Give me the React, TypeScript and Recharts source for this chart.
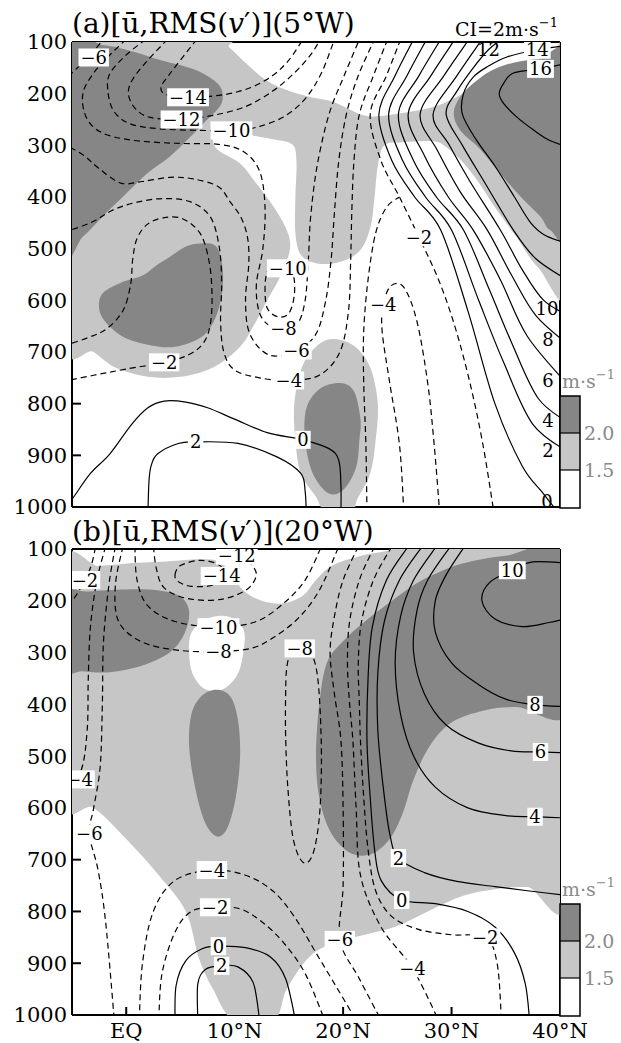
import React from 'react';
import { ScatterChart, Scatter, XAxis, YAxis } from 'recharts';

type Pt = [number, number];
type Lb = [number, number, number];

const LAT_TICKS = [0, 10, 20, 30, 40];
const P_TICKS = [100, 200, 300, 400, 500, 600, 700, 800, 900, 1000];
const LEGEND_LEVELS = ['2.0', '1.5'];

// ---------------- Panel (a) 5°W ----------------
const A_LIGHT_1: Pt[] = [[-6,95],[8.5,95],[9.5,110],[11.1,142],[12.9,174],[14.8,193],[16.9,206],[19.1,216],[22.2,243],[25.3,238],[28.3,226],[30.5,206],[32.7,180],[34.5,155],[37,136],[39.1,127],[41,118],[41,580],[38,537],[36,478],[34,420],[32.5,372],[31,332],[29.5,303],[28.3,292],[25.5,294],[23.8,300],[23.2,340],[22.9,400],[22.5,460],[21.5,505],[19.5,527],[17.5,528],[16.1,512],[15.6,470],[15.6,400],[15.7,330],[15.3,298],[13.5,288],[11,278],[8.3,262],[8.2,303],[10.5,335],[12,374],[13.6,419],[14.8,464],[15.1,500],[14.3,550],[13,600],[12,640],[10.5,690],[8,730],[5,748],[2,748],[-1,730],[-3,700],[-6,660]];
const A_LIGHT_2: Pt[] = [[19,675],[21,688],[22.5,730],[23.2,800],[23,871],[22.5,935],[21.3,985],[20.8,1010],[18.4,1010],[17.5,980],[16.1,935],[15.6,871],[15.5,800],[16.2,730],[17.5,690]];
const A_DARK_1: Pt[] = [[-6,103],[-2.2,106],[0.5,118],[3.1,135],[5.5,148],[7.1,161],[8.5,182],[8.9,203],[8.6,226],[7.1,258],[5.6,290],[4,322],[1.9,355],[0,393],[-2.2,438],[-4,477],[-6,505]];
const A_DARK_2: Pt[] = [[4,516],[5.5,496],[6.8,490],[8.3,496],[8.9,540],[8.8,590],[8.2,635],[7,670],[4.5,690],[2,686],[-0.5,668],[-2.3,630],[-2.3,590],[-0.5,566],[1.5,552],[2.8,532]];
const A_DARK_3: Pt[] = [[30.8,206],[32,180],[33.6,156],[35.7,140],[38,134],[41,132],[41,470],[39.1,464],[38.2,438],[36.4,400],[34.5,355],[32.7,309],[30.8,271],[30.2,238]];
const A_DARK_4: Pt[] = [[19.7,760],[21,776],[21.6,830],[21.5,871],[21.2,923],[20.1,965],[18.7,974],[17.2,935],[16.5,871],[16.6,810],[17.8,772]];

const A_POS_16: Pt[] = [[41,140],[38.2,152],[35.7,160],[34.8,180],[34.4,200],[34.8,219],[36,245],[37.6,271],[39,290],[41,305]];
const A_POS_14: Pt[] = [[41,106],[37.9,115],[35.1,129],[33.3,148],[32,168],[31.1,200],[31,240],[32.3,290],[34,340],[35.8,400],[37.3,450],[38.7,475],[41,492]];
const A_POS_12: Pt[] = [[34.6,95],[33.4,115],[32,150],[30.5,195],[29.5,240],[31,300],[33,370],[35.7,464],[37.8,520],[41,565]];
const A_POS_10: Pt[] = [[32.8,95],[30.5,165],[28.3,240],[29.8,300],[31.7,370],[34.5,464],[36.5,540],[38.5,600],[41,632]];
const A_POS_8: Pt[] = [[31.6,95],[29.3,165],[27.1,240],[28.7,310],[30.8,390],[33.3,464],[35.5,550],[37.8,630],[41,690]];
const A_POS_6: Pt[] = [[30.3,95],[28.1,165],[26,240],[27.5,320],[29.7,400],[32,464],[34.5,560],[37,670],[41,770]];
const A_POS_4: Pt[] = [[29,95],[27,165],[25.1,240],[26.5,330],[28.6,400],[31.1,464],[33.5,580],[35.5,680],[38,790],[41,840]];
const A_POS_2: Pt[] = [[27.7,95],[25.9,165],[24.2,240],[25.5,330],[27.6,400],[30,464],[32.5,600],[34.8,720],[37.5,840],[41,897]];
const A_POS_0: Pt[] = [[26.5,95],[24.8,165],[23.3,240],[24.5,330],[26.6,400],[29,464],[31.5,620],[34,800],[36.5,920],[38.5,975],[39.8,1010]];
const A_POS_0L: Pt[] = [[-6,1010],[-5,985],[-3.3,935],[-1.5,897],[0.5,840],[2,808],[3.5,795],[5.5,797],[7.5,808],[10,830],[13,856],[16.3,870],[18.7,887],[19.6,910],[19.8,960],[19.8,1010]];
const A_POS_2L: Pt[] = [[2,1010],[2.1,950],[2.3,920],[2.9,897],[4.8,877],[6.4,874],[10.3,877],[13.9,903],[16.1,935],[16.5,970],[16.6,1010]];

const A_NEG_6C: Pt[] = [[-6,180],[-4.5,150],[-3.3,125],[-2.3,100],[-2,93]];
const A_NEG_8: Pt[] = [[0,95],[-1.5,125],[-3,160],[-4,200],[-3.7,245],[-2.3,275],[0.5,290],[4.5,296],[8.5,298],[10.8,312],[12.3,350],[12.8,420],[12.6,500],[12,570],[12.3,625],[13.3,650],[14.5,655],[15.8,645],[16.5,600],[16.8,520],[17,440],[17.6,340],[18.7,240],[20.1,165],[21.5,95]];
const A_NEG_10: Pt[] = [[1.8,95],[0,125],[-1.5,161],[-1.7,193],[-1.2,232],[0.3,258],[3.1,268],[6.8,271],[9.7,271],[12,265],[14.5,245],[16.5,210],[18,160],[19.2,95]];
const A_NEG_12: Pt[] = [[3.8,95],[2,135],[0.6,172],[0.2,200],[0.8,228],[2.2,246],[5.1,250],[8,242],[11,225],[13.5,195],[15.5,160],[17,125],[17.9,95]];
const A_NEG_14: Pt[] = [[6.5,95],[5,135],[3.9,165],[3.2,188],[3.7,202],[5.7,207],[9,202],[11.5,188],[13.5,165],[15,135],[16.3,95]];
const A_NEG_6: Pt[] = [[-6,295],[-4,318],[-2.5,345],[-0.5,373],[1.5,370],[4,362],[6.2,365],[8.5,380],[9.6,410],[10.6,440],[11.2,480],[11.3,530],[11,600],[11.4,665],[13.2,706],[15.7,697],[17.5,665],[18.4,600],[18.9,520],[19.2,430],[19.6,330],[20.3,240],[21.4,165],[22.9,95]];
const A_NEG_4: Pt[] = [[24.1,95],[22.8,165],[21.5,240],[21,330],[20.8,430],[20.7,520],[20.5,620],[19.7,700],[17.8,745],[15,755],[12.3,750],[10,735],[9,700],[8.7,640],[8.8,570],[8.6,500],[7.8,440],[6,410],[3.5,403],[1,410],[-1.2,425],[-3.3,450],[-6,470]];
const A_NEG_2: Pt[] = [[25.3,95],[24,165],[22.5,240],[23.5,330],[25.2,400],[27,478],[28.8,560],[30.3,650],[31.7,760],[32.9,880],[33.9,1010]];
const A_NEG_2L: Pt[] = [[-6,758],[-3,745],[0,733],[3.5,720],[5.8,705],[7.2,680],[7.8,640],[7.9,580],[7.6,520],[6.8,470],[5.2,442],[3.5,440],[2,452],[1,480],[0.6,520],[0.4,570],[-0.3,620],[-1.8,655],[-3.5,672],[-6,690]];
const A_NEG_4U: Pt[] = [[25.6,1010],[25.2,880],[24.3,760],[23.6,660],[23.7,609],[24.4,572],[25.6,575],[26.8,640],[27.8,760],[28.4,880],[28.9,1010]];
const A_NEG_2B: Pt[] = [[22.2,1010],[22.1,880],[21.9,760],[21.9,660],[22.3,560],[23,470],[24,420],[25.2,400]];
const A_NEG_10_OVAL: Pt[] = [[13.6,530],[14.6,525],[15.4,550],[15.5,590],[15,625],[14,632],[13,615],[12.8,575],[13,545]];

const A_LABELS_BOX: Lb[] = [[-3,130,-6],[5.7,207,-14],[5.1,250,-12],[9.7,271,-10],[14.9,538,-10],[14.5,655,-8],[15.7,697,-6],[15,755,-4],[3.5,720,-2],[23.7,609,-4],[27,478,-2],[16.3,870,0],[6.4,874,2],[37.9,115,14],[38.2,152,16]];
const A_LABELS_PLAIN: Lb[] = [[33.4,115,12],[38.8,616,10],[38.9,676,8],[38.9,756,6],[38.9,832,4],[38.9,891,2],[38.8,990,0]];

// ---------------- Panel (b) 20°W ----------------
const B_LIGHT_1: Pt[] = [[-6,138],[-2.5,133],[0.6,127],[3.7,124],[6.8,120],[8.5,124],[9.6,145],[10.8,180],[12.5,200],[14.5,205],[16.3,190],[17.5,160],[19,132],[21.5,114],[24,104],[26,95],[41,95],[41,760],[37,753],[34,757],[31,770],[28,798],[25,828],[22,845],[19,862],[16.8,890],[14.8,950],[13.6,1010],[9.9,1010],[8,950],[6.7,890],[5.5,800],[3,730],[0,660],[-3,600],[-6,575]];
const B_WHITE_1: Pt[] = [[6,262],[7.3,236],[9.3,230],[10.8,255],[10.8,300],[10.2,345],[8.8,372],[7.2,370],[6.1,340],[5.8,300]];
const B_DARK_1: Pt[] = [[-6,190],[-3.5,182],[0,178],[3,180],[5,192],[5.8,220],[5.4,262],[4,300],[1.5,325],[-1.5,338],[-4,336],[-6,330]];
const B_DARK_2: Pt[] = [[8.3,372],[9.6,385],[10.3,430],[10.5,500],[10.1,580],[9.3,640],[8.3,655],[7.2,625],[6.3,555],[5.8,480],[6,420],[6.9,385]];
const B_DARK_3: Pt[] = [[41,108],[35,113],[31,128],[28.5,148],[26.5,170],[24.5,200],[22,240],[20,278],[18.5,320],[17.8,400],[17.5,500],[17.8,580],[18.8,645],[20.5,685],[22.5,690],[24.3,660],[25.5,610],[26.5,545],[28,480],[30,435],[33,412],[36,405],[41,410]];

const B_POS_10: Pt[] = [[41,128],[37.5,125],[35.6,141],[33.5,165],[32.8,200],[34,235],[36.5,250],[39,242],[41,232]];
const B_POS_8: Pt[] = [[31.2,95],[29.5,150],[28.5,200],[28.5,260],[30,320],[32.5,362],[35,390],[37.7,401],[41,405]];
const B_POS_6: Pt[] = [[29.9,95],[27.8,160],[26.8,220],[26.5,300],[27.5,380],[29.5,440],[32.5,475],[35.5,490],[38.2,492],[41,494]];
const B_POS_4: Pt[] = [[28.6,95],[26.5,160],[25.3,230],[24.8,320],[25.3,420],[26.5,500],[28.5,560],[31.5,600],[35,615],[37.7,617],[41,620]];
const B_POS_2: Pt[] = [[27.3,95],[25.2,160],[23.8,240],[23.2,340],[23.2,450],[23.7,560],[24.3,650],[25.1,697],[27.5,725],[30.5,742],[34,752],[37,760],[41,770]];
const B_POS_0: Pt[] = [[26,95],[24,160],[22.7,250],[22.3,350],[22.2,470],[22.5,580],[22.9,680],[23.5,740],[25.4,778],[28.5,785],[31.5,800],[34,830],[35.8,880],[36.8,940],[37.2,1010]];
const B_POS_0D: Pt[] = [[4.5,1010],[4.6,943],[5.5,895],[7,872],[8.5,867],[11,870],[13.3,888],[14.7,930],[15.6,1010]];
const B_POS_2D: Pt[] = [[6.6,1010],[6.6,940],[7.3,912],[8.8,905],[10.3,907],[11.7,937],[12.3,1010]];

const B_NEG_2C: Pt[] = [[-6,225],[-4.8,195],[-3.8,160],[-3.2,130],[-2.8,93]];
const B_NEG_4L: Pt[] = [[-1.9,95],[-2.7,160],[-3.3,250],[-3.5,350],[-3.6,450],[-4.2,530],[-6,590]];
const B_NEG_6L: Pt[] = [[-1,95],[-1.6,170],[-2.1,280],[-2.2,400],[-2.4,520],[-3,600],[-3.4,650],[-2.6,720],[-1.9,820],[-1.1,1010]];
const B_NEG_8U: Pt[] = [[-0.3,95],[-1,170],[-0.7,240],[1.5,280],[5,296],[8.5,298],[11.5,292],[13.5,272],[15.8,235],[17.8,180],[19.6,95]];
const B_NEG_10U: Pt[] = [[0.8,95],[1,160],[2,210],[4.5,240],[8.5,251],[12,240],[14.5,205],[16.5,160],[18,95]];
const B_NEG_12: Pt[] = [[2.5,95],[2.8,140],[3.5,175],[5.5,195],[8.5,198],[11,180],[12,150],[11.3,125],[10.2,112],[9.6,93]];
const B_NEG_6R: Pt[] = [[21.4,95],[20,160],[19.2,230],[18.8,300],[19.2,380],[19.8,470],[20,600],[20,750],[19.7,855],[21.5,930],[23.5,1010]];
const B_NEG_4R: Pt[] = [[22.9,95],[21.5,160],[20.6,240],[20.4,320],[20.6,400],[20.9,470],[21.2,600],[21.6,730],[23.5,830],[26.4,910],[28.8,1010]];
const B_NEG_2R: Pt[] = [[24.5,95],[22.8,160],[21.7,240],[21.4,320],[21.5,400],[21.6,470],[21.9,580],[22.3,680],[23,760],[24.5,810],[27,835],[30,845],[33.1,850],[34.2,900],[34.6,1010]];
const B_NEG_4D: Pt[] = [[1.2,1010],[1.5,900],[2.5,800],[4.5,740],[7.9,720],[11,730],[13.5,760],[15.5,810],[17.5,880],[19.5,950],[21.2,1010]];
const B_NEG_2D: Pt[] = [[3,1010],[3.3,920],[4.5,840],[6,800],[8.2,792],[10.5,795],[12.5,820],[14.5,860],[16.5,920],[18.3,1010]];
const B_NEG_14_LOOP: Pt[] = [[4.5,150],[5,132],[6.8,122],[8.5,130],[9.1,152],[8,170],[6,172],[4.8,163]];
const B_NEG_8_LOOP: Pt[] = [[15.2,300],[16,290],[17,300],[17.6,340],[17.9,420],[18,520],[17.8,620],[17.2,690],[16.3,705],[15.4,660],[14.9,560],[14.7,460],[14.7,380],[14.8,330]];

const B_LABELS_BOX: Lb[] = [[-3.8,160,-2],[10.2,113,-12],[8.8,152,-14],[8.5,251,-10],[8.5,298,-8],[16,292,-8],[35.6,141,10],[37.7,401,8],[38.2,492,6],[37.7,617,4],[25.1,697,2],[25.4,778,0],[7.9,720,-4],[8.2,792,-2],[8.5,867,0],[8.8,905,2],[19.7,855,-6],[-4.3,545,-4],[-3.4,650,-6],[26.4,910,-4],[33.1,850,-2]];
const B_LABELS_PLAIN: Lb[] = [];

// ---------------- rendering helpers ----------------
const FONT = "'DejaVu Serif', serif";
const LIGHT = '#c6c6c6';
const DARK = '#868686';
const LEG_TEXT = '#8a8a8a';

const makeCurve = (closed: boolean) => (context: any) => {
  let pts: number[][] = [];
  return {
    areaStart() {},
    areaEnd() {},
    lineStart() { pts = []; },
    point(x: number, y: number) { pts.push([x, y]); },
    lineEnd() {
      const n = pts.length;
      if (!n) return;
      context.moveTo(pts[0][0], pts[0][1]);
      if (n === 1) return;
      const g = (i: number) => (closed ? pts[((i % n) + n) % n] : pts[Math.max(0, Math.min(n - 1, i))]);
      const segs = closed ? n : n - 1;
      for (let i = 0; i < segs; i++) {
        const p0 = g(i - 1), p1 = g(i), p2 = g(i + 1), p3 = g(i + 2);
        context.bezierCurveTo(
          p1[0] + (p2[0] - p0[0]) / 6, p1[1] + (p2[1] - p0[1]) / 6,
          p2[0] - (p3[0] - p1[0]) / 6, p2[1] - (p3[1] - p1[1]) / 6,
          p2[0], p2[1]);
      }
      if (closed) context.closePath();
    },
  };
};
const openCurve: any = makeCurve(false);
const closedCurve: any = makeCurve(true);

const toPts = (arr: Pt[]) => arr.map(([x, y]) => ({ x, y }));
const toLbl = (arr: Lb[]) => arr.map(([x, y, v]) => ({ x, y, v }));
const noShape = () => <g />;
const fmt = (v: number) => (v < 0 ? '\u2212' + Math.abs(v) : String(v));

const labelShape = (boxed: boolean) => (props: any) => {
  const { cx, cy, payload } = props;
  const t = fmt(payload.v);
  let w = 4;
  for (const ch of t) w += ch === '\u2212' ? 15 : 11.4;
  return (
    <g>
      {boxed && <rect x={cx - w / 2} y={cy - 9} width={w} height={18} fill="#fff" />}
      <text x={cx} y={cy + 6.5} textAnchor="middle" fontFamily={FONT} fontSize={18} fill="#000">{t}</text>
    </g>
  );
};
const boxedShape = labelShape(true);
const plainShape = labelShape(false);

type PanelData = {
  light: Pt[][];
  white: Pt[][];
  dark: Pt[][];
  solid: Pt[][];
  dashed: Pt[][];
  dashedClosed: Pt[][];
  labelsBox: Lb[];
  labelsPlain: Lb[];
};

const PANEL_A: PanelData = {
  light: [A_LIGHT_1, A_LIGHT_2],
  white: [],
  dark: [A_DARK_1, A_DARK_2, A_DARK_3, A_DARK_4],
  solid: [A_POS_16, A_POS_14, A_POS_12, A_POS_10, A_POS_8, A_POS_6, A_POS_4, A_POS_2, A_POS_0, A_POS_0L, A_POS_2L],
  dashed: [A_NEG_6C, A_NEG_8, A_NEG_10, A_NEG_12, A_NEG_14, A_NEG_6, A_NEG_4, A_NEG_2, A_NEG_2L, A_NEG_4U, A_NEG_2B],
  dashedClosed: [A_NEG_10_OVAL],
  labelsBox: A_LABELS_BOX,
  labelsPlain: A_LABELS_PLAIN,
};

const PANEL_B: PanelData = {
  light: [B_LIGHT_1],
  white: [B_WHITE_1],
  dark: [B_DARK_1, B_DARK_2, B_DARK_3],
  solid: [B_POS_10, B_POS_8, B_POS_6, B_POS_4, B_POS_2, B_POS_0, B_POS_0D, B_POS_2D],
  dashed: [B_NEG_2C, B_NEG_4L, B_NEG_6L, B_NEG_8U, B_NEG_10U, B_NEG_12, B_NEG_6R, B_NEG_4R, B_NEG_2R, B_NEG_4D, B_NEG_2D],
  dashedClosed: [B_NEG_14_LOOP, B_NEG_8_LOOP],
  labelsBox: B_LABELS_BOX,
  labelsPlain: B_LABELS_PLAIN,
};

const latFmt = (v: number) => (v === 0 ? 'EQ' : `${v}°N`);
const AXIS_STYLE = { stroke: '#000', strokeWidth: 2 };
const TICK_FONT = { fill: '#000', fontSize: 21, fontFamily: FONT };

function Panel({ d, height, margin, bottomLabels }: { d: PanelData; height: number; margin: any; bottomLabels: boolean }) {
  const fillPoly = (poly: Pt[], color: string, key: string) => (
    <Scatter key={key} data={toPts(poly)} shape={noShape} line={{ fill: color, stroke: 'none', strokeWidth: 0 }} lineJointType={closedCurve} isAnimationActive={false} />
  );
  return (
    <ScatterChart width={621} height={height} margin={margin}>
      {d.light.map((p, i) => fillPoly(p, LIGHT, 'l' + i))}
      {d.white.map((p, i) => fillPoly(p, '#ffffff', 'w' + i))}
      {d.dark.map((p, i) => fillPoly(p, DARK, 'd' + i))}
      {d.solid.map((p, i) => (
        <Scatter key={'s' + i} data={toPts(p)} shape={noShape} line={{ stroke: '#000', strokeWidth: 1.2, fill: 'none' }} lineJointType={openCurve} isAnimationActive={false} />
      ))}
      {d.dashed.map((p, i) => (
        <Scatter key={'n' + i} data={toPts(p)} shape={noShape} line={{ stroke: '#000', strokeWidth: 1.2, strokeDasharray: '6 4', fill: 'none' }} lineJointType={openCurve} isAnimationActive={false} />
      ))}
      {d.dashedClosed.map((p, i) => (
        <Scatter key={'c' + i} data={toPts(p)} shape={noShape} line={{ stroke: '#000', strokeWidth: 1.2, strokeDasharray: '6 4', fill: 'none' }} lineJointType={closedCurve} isAnimationActive={false} />
      ))}
      <Scatter key="lb" data={toLbl(d.labelsBox)} shape={boxedShape} isAnimationActive={false} />
      <Scatter key="lp" data={toLbl(d.labelsPlain)} shape={plainShape} isAnimationActive={false} />

      <XAxis type="number" dataKey="x" domain={[-5, 40]} allowDataOverflow ticks={LAT_TICKS} interval={0}
        height={bottomLabels ? 27 : 1} tickSize={-8} tickMargin={16}
        tick={bottomLabels ? TICK_FONT : false} tickFormatter={latFmt}
        axisLine={AXIS_STYLE} tickLine={AXIS_STYLE} />
      <XAxis xAxisId="top" orientation="top" type="number" dataKey="x" domain={[-5, 40]} allowDataOverflow ticks={LAT_TICKS} interval={0}
        height={1} tickSize={-8} tick={false} axisLine={AXIS_STYLE} tickLine={AXIS_STYLE} />
      <YAxis type="number" dataKey="y" domain={[100, 1000]} reversed allowDataOverflow ticks={P_TICKS} interval={0}
        width={72} tickSize={-9} tickMargin={14} tick={TICK_FONT} axisLine={AXIS_STYLE} tickLine={AXIS_STYLE} />
      <YAxis yAxisId="r" orientation="right" type="number" dataKey="y" domain={[100, 1000]} reversed allowDataOverflow ticks={P_TICKS} interval={0}
        width={1} tickSize={-9} tick={false} axisLine={AXIS_STYLE} tickLine={AXIS_STYLE} />
    </ScatterChart>
  );
}

function ColorBar({ top }: { top: number }) {
  const h = 37;
  return (
    <g>
      <text x={562} y={top - 8} fontFamily={FONT} fontSize={19} fill={LEG_TEXT}>
        m·s<tspan dy={-9} fontSize={13}>−1</tspan>
      </text>
      <rect x={560} y={top} width={20} height={h} fill={DARK} />
      <rect x={560} y={top + h} width={20} height={h} fill={LIGHT} />
      <rect x={560} y={top + 2 * h} width={20} height={h + 1} fill="#fff" />
      <rect x={560} y={top} width={20} height={3 * h + 1} fill="none" stroke="#000" strokeWidth={1.5} />
      <line x1={560} x2={580} y1={top + h} y2={top + h} stroke="#000" strokeWidth={1.2} />
      <line x1={560} x2={580} y1={top + 2 * h} y2={top + 2 * h} stroke="#000" strokeWidth={1.2} />
      {LEGEND_LEVELS.map((t, i) => (
        <text key={t} x={584} y={top + (i + 1) * h + 7} fontFamily={FONT} fontSize={19} fill={LEG_TEXT}>{t}</text>
      ))}
    </g>
  );
}

export default function App() {
  return (
    <div style={{ position: 'absolute', left: 0, top: 0, width: 621, height: 1043, background: '#fff' }}>
      <div style={{ position: 'absolute', left: 0, top: 0 }}>
        <Panel d={PANEL_A} height={518} margin={{ top: 41, right: 60, bottom: 10, left: 0 }} bottomLabels={false} />
      </div>
      <div style={{ position: 'absolute', left: 0, top: 518 }}>
        <Panel d={PANEL_B} height={525} margin={{ top: 30, right: 60, bottom: 1, left: 0 }} bottomLabels={true} />
      </div>
      <svg width={621} height={1043} style={{ position: 'absolute', left: 0, top: 0, pointerEvents: 'none' }}>
        <text x={72} y={33} fontFamily={FONT} fontSize={28} fill="#000">
          (a)[ū,RMS(<tspan fontStyle="italic">v</tspan>′)](5°W)
        </text>
        <text x={455} y={36} fontFamily={FONT} fontSize={19} fill="#000">
          CI=2m·s<tspan dy={-9} fontSize={13}>−1</tspan>
        </text>
        <text x={72} y={541} fontFamily={FONT} fontSize={28} fill="#000">
          (b)[ū,RMS(<tspan fontStyle="italic">v</tspan>′)](20°W)
        </text>
        <ColorBar top={396} />
        <ColorBar top={904} />
      </svg>
    </div>
  );
}
